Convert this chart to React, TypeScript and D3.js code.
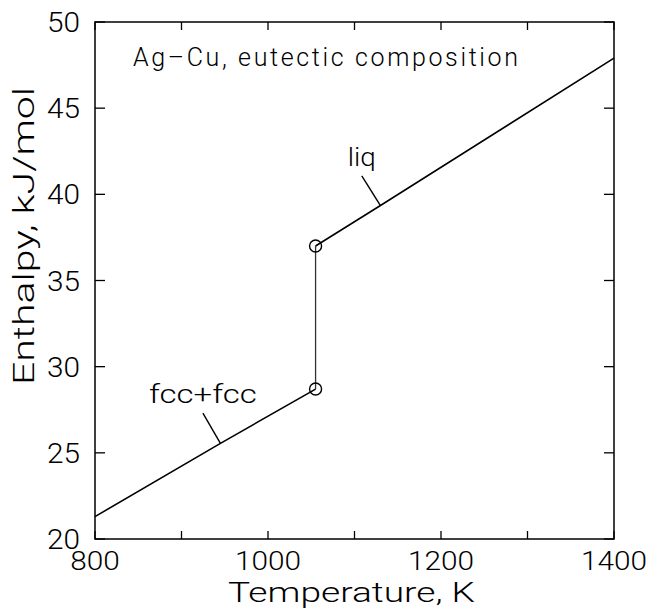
import React from "react";
import * as d3 from "d3";

// Enthalpy of the Ag-Cu eutectic alloy vs temperature
const fccT = [800, 945, 1055];
const fccH = [21.3, 25.55, 28.7];
const liqT = [1055, 1130, 1400];
const liqH = [37.0, 39.35, 47.9];
const transitionT = 1055;
const transitionH = [28.7, 37.0];

const xTicks = [800, 900, 1000, 1100, 1200, 1300, 1400];
const xTickLabels = [800, 1000, 1200, 1400];
const yTicks = [20, 25, 30, 35, 40, 45, 50];

const phaseLabels = [
  { text: "fcc+fcc", T: 945, H: 25.55, width: 108 },
  { text: "liq", T: 1130, H: 39.35, width: 28 },
];

const W = 647;
const H = 608;
const M = { left: 95, right: 614, top: 22, bottom: 539 };
const FONT = "Roboto, 'Open Sans', 'DejaVu Sans', sans-serif";

export default function App() {
  const x = d3.scaleLinear().domain([800, 1400]).range([M.left, M.right]);
  const y = d3.scaleLinear().domain([20, 50]).range([M.bottom, M.top]);
  const line = d3
    .line<[number, number]>()
    .x((d) => x(d[0]))
    .y((d) => y(d[1]));

  const fcc = fccT.map((t, i) => [t, fccH[i]] as [number, number]);
  const liq = liqT.map((t, i) => [t, liqH[i]] as [number, number]);
  const jump: [number, number][] = transitionH.map((h) => [transitionT, h]);

  // pointer perpendicular to the curve at the label anchor
  const pointer = (series: [number, number][], T: number, Hv: number) => {
    const a = series[0];
    const b = series[series.length - 1];
    const dx = x(b[0]) - x(a[0]);
    const dy = y(b[1]) - y(a[1]);
    const len = Math.hypot(dx, dy);
    let nx = dy / len;
    let ny = -dx / len;
    if (ny > 0) {
      nx = -nx;
      ny = -ny;
    }
    const px = x(T);
    const py = y(Hv);
    const L = 35;
    return { x1: px, y1: py, x2: px + nx * L, y2: py + ny * L };
  };

  return (
    <svg
      width={W}
      height={H}
      style={{ position: "absolute", left: 0, top: 0, background: "#fff" }}
      fontFamily={FONT}
    >
      <rect width={W} height={H} fill="#fff" />
      {/* frame */}
      <rect
        x={M.left}
        y={M.top}
        width={M.right - M.left}
        height={M.bottom - M.top}
        fill="none"
        stroke="#000"
        strokeWidth={1.5}
      />
      {/* x ticks, bottom and top */}
      {xTicks.map((t) => (
        <g key={"xt" + t}>
          <line x1={x(t)} x2={x(t)} y1={M.bottom} y2={M.bottom - 8} stroke="#000" strokeWidth={1.3} />
          <line x1={x(t)} x2={x(t)} y1={M.top} y2={M.top + 8} stroke="#000" strokeWidth={1.3} />
        </g>
      ))}
      {xTickLabels.map((t) => (
        <text
          key={"xl" + t}
          x={x(t)}
          y={570}
          fontSize={26}
          textAnchor="middle"
          fontWeight={300}
          textLength={String(t).length * 16.5}
          lengthAdjust="spacingAndGlyphs"
        >
          {t}
        </text>
      ))}
      {/* y ticks, left and right */}
      {yTicks.map((t) => (
        <g key={"yt" + t}>
          <line x1={M.left} x2={M.left + 10} y1={y(t)} y2={y(t)} stroke="#000" strokeWidth={1.3} />
          <line x1={M.right} x2={M.right - 10} y1={y(t)} y2={y(t)} stroke="#000" strokeWidth={1.3} />
          <text
            x={80}
            y={y(t) + 10}
            fontSize={27}
            textAnchor="end"
            fontWeight={300}
            textLength={33}
            lengthAdjust="spacingAndGlyphs"
          >
            {t}
          </text>
        </g>
      ))}
      {/* axis titles */}
      <text x={228} y={602} fontSize={28} fontWeight={300} textLength={247} lengthAdjust="spacingAndGlyphs">
        Temperature, K
      </text>
      <text
        transform={`translate(34, 385) rotate(-90)`}
        fontSize={29}
        fontWeight={300}
        textLength={298}
        lengthAdjust="spacingAndGlyphs"
      >
        Enthalpy, kJ/mol
      </text>
      {/* title */}
      <text x={133} y={66} fontSize={25} fontWeight={300} textLength={385} lengthAdjust="spacing">
        Ag–Cu, eutectic composition
      </text>
      {/* curves */}
      <path d={line(fcc) ?? ""} fill="none" stroke="#000" strokeWidth={1.6} />
      <path d={line(liq) ?? ""} fill="none" stroke="#000" strokeWidth={1.6} />
      <path d={line(jump) ?? ""} fill="none" stroke="#333" strokeWidth={1.3} />
      {jump.map((d, i) => (
        <circle key={"c" + i} cx={x(d[0])} cy={y(d[1])} r={6} fill="none" stroke="#000" strokeWidth={1.4} />
      ))}
      {/* phase labels */}
      {phaseLabels.map((p, i) => {
        const s = i === 0 ? fcc : liq;
        const ptr = pointer(s, p.T, p.H);
        return (
          <g key={p.text}>
            <line x1={ptr.x1} y1={ptr.y1} x2={ptr.x2} y2={ptr.y2} stroke="#000" strokeWidth={1.4} />
            <text
              x={ptr.x2}
              y={ptr.y2 - 10}
              fontSize={25}
              fontWeight={300}
              textAnchor="middle"
              textLength={p.width}
              lengthAdjust="spacingAndGlyphs"
            >
              {p.text}
            </text>
          </g>
        );
      })}
    </svg>
  );
}
